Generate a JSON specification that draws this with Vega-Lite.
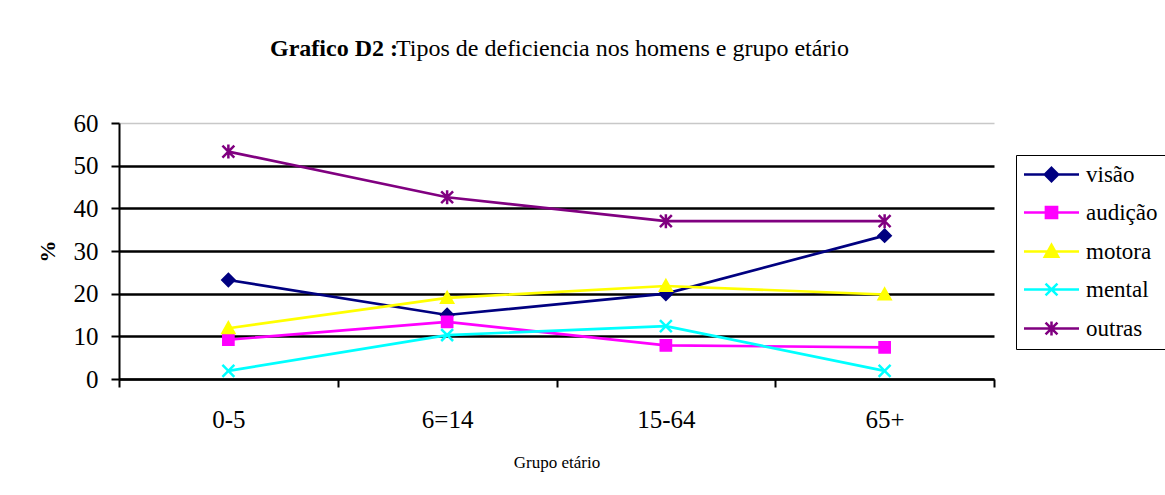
{
  "$schema": "https://vega.github.io/schema/vega-lite/v6.json",
  "width": 875,
  "height": 256,
  "autosize": {"type": "none"},
  "padding": {"left": 119, "top": 123, "right": 171, "bottom": 116},
  "background": "white",
  "config": {
    "font": "Liberation Serif",
    "view": {"stroke": null},
    "text": {"font": "Liberation Serif"},
    "title": {"font": "Liberation Serif", "subtitleFont": "Liberation Serif"},
    "style": {"group-subtitle": {"font": "Liberation Serif"}, "group-title": {"font": "Liberation Serif"}, "guide-label": {"font": "Liberation Serif, serif"}, "guide-title": {"font": "Liberation Serif"}},
    "legend": {"labelFont": "Liberation Serif, serif", "titleFont": "Liberation Serif"}
  },
  "title": {
    "text": "Grafico D2 :",
    "subtitle": "⠀⠀⠀⠀⠀⠀⠀Tipos de deficiencia nos homens e grupo etário",
    "anchor": "start",
    "frame": "group",
    "dx": 151,
    "offset": 50,
    "font": "Liberation Serif",
    "fontSize": 24,
    "fontWeight": "bold",
    "color": "black",
    "subtitleFont": "Liberation Serif",
    "subtitleFontSize": 24,
    "subtitleFontWeight": "normal",
    "subtitleColor": "black",
    "subtitlePadding": -24
  },
  "data": {
    "values": [
      {"grupo": "0-5", "tipo": "visão", "valor": 23.2},
      {"grupo": "6=14", "tipo": "visão", "valor": 15.0},
      {"grupo": "15-64", "tipo": "visão", "valor": 20.0},
      {"grupo": "65+", "tipo": "visão", "valor": 33.6},
      {"grupo": "0-5", "tipo": "audição", "valor": 9.2},
      {"grupo": "6=14", "tipo": "audição", "valor": 13.4},
      {"grupo": "15-64", "tipo": "audição", "valor": 7.9},
      {"grupo": "65+", "tipo": "audição", "valor": 7.4},
      {"grupo": "0-5", "tipo": "motora", "valor": 11.9},
      {"grupo": "6=14", "tipo": "motora", "valor": 19.0},
      {"grupo": "15-64", "tipo": "motora", "valor": 21.8},
      {"grupo": "65+", "tipo": "motora", "valor": 19.8},
      {"grupo": "0-5", "tipo": "mental", "valor": 1.9},
      {"grupo": "6=14", "tipo": "mental", "valor": 10.3},
      {"grupo": "15-64", "tipo": "mental", "valor": 12.4},
      {"grupo": "65+", "tipo": "mental", "valor": 1.9},
      {"grupo": "0-5", "tipo": "outras", "valor": 53.3},
      {"grupo": "6=14", "tipo": "outras", "valor": 42.6},
      {"grupo": "15-64", "tipo": "outras", "valor": 37.0},
      {"grupo": "65+", "tipo": "outras", "valor": 37.0}
    ]
  },
  "encoding": {
    "x": {
      "field": "grupo",
      "type": "nominal",
      "sort": ["0-5", "6=14", "15-64", "65+"],
      "scale": {"type": "band", "paddingInner": 0, "paddingOuter": 0},
      "axis": {
        "title": "Grupo etário",
        "labelAngle": 0,
        "tickBand": "extent",
        "tickSize": 8,
        "tickColor": "black",
        "tickWidth": 2,
        "domainColor": "black",
        "domainWidth": 2,
        "labelFont": "Liberation Serif",
        "labelFontSize": 25,
        "labelColor": "black",
        "labelPadding": 20,
        "titleFont": "Liberation Serif",
        "titleFontSize": 17,
        "titleFontWeight": "normal",
        "titleColor": "black",
        "titlePadding": 22,
        "grid": false
      }
    },
    "y": {
      "field": "valor",
      "type": "quantitative",
      "scale": {"domain": [0, 60], "nice": false},
      "axis": {
        "title": "%",
        "titleFont": "Liberation Serif",
        "titleFontWeight": "bold",
        "titleFontSize": 22,
        "titleColor": "black",
        "titlePadding": 14,
        "values": [0, 10, 20, 30, 40, 50, 60],
        "labelFont": "Liberation Serif",
        "labelFontSize": 25,
        "labelColor": "black",
        "labelPadding": 13,
        "tickSize": 8,
        "tickColor": "black",
        "tickWidth": 2,
        "domainColor": "black",
        "domainWidth": 2,
        "grid": true,
        "gridOpacity": 1,
        "gridColor": {"condition": {"test": "datum.value == 60", "value": "#c8c8c8"}, "value": "black"},
        "gridWidth": {"condition": {"test": "datum.value == 60", "value": 1.5}, "value": 2.5}
      }
    }
  },
  "layer": [
    {
      "mark": {"type": "line", "strokeWidth": 2.7},
      "encoding": {
        "color": {
          "field": "tipo",
          "type": "nominal",
          "scale": {"domain": ["visão", "audição", "motora", "mental", "outras"], "range": ["#000080", "#FF00FF", "#FFFF00", "#00FFFF", "#800080"]},
          "legend": {"title": null, "orient": "none", "legendX": 897, "legendY": 32, "padding": 8, "strokeColor": "black", "fillColor": "white", "labelFont": "Liberation Serif, serif", "labelFontSize": 23, "labelColor": "black", "labelLimit": 0, "symbolSize": 196, "symbolStrokeWidth": 2.5, "symbolOffset": 16, "labelOffset": 23, "rowPadding": 14}
        }
      }
    },
    {
      "transform": [{"filter": "datum.tipo == 'visão'"}],
      "mark": {"type": "point", "filled": true, "shape": "M0,-0.95L0.95,0L0,0.95L-0.95,0Z", "size": 196, "fill": "#000080", "stroke": "#000080", "strokeWidth": 1.5, "opacity": 1}
    },
    {
      "transform": [{"filter": "datum.tipo == 'audição'"}],
      "mark": {"type": "point", "filled": true, "shape": "M-0.8,-0.8L0.8,-0.8L0.8,0.8L-0.8,0.8Z", "size": 196, "fill": "#FF00FF", "stroke": "#FF00FF", "strokeWidth": 1.5, "opacity": 1}
    },
    {
      "transform": [{"filter": "datum.tipo == 'motora'"}],
      "mark": {"type": "point", "filled": true, "shape": "M0,-0.95L0.95,0.75L-0.95,0.75Z", "size": 196, "fill": "#FFFF00", "stroke": "#FFFF00", "strokeWidth": 1.5, "opacity": 1}
    },
    {
      "transform": [{"filter": "datum.tipo == 'mental'"}],
      "mark": {"type": "point", "filled": true, "shape": "M-0.85,-0.85L0.85,0.85M-0.85,0.85L0.85,-0.85", "size": 196, "fill": "#00FFFF", "stroke": "#00FFFF", "strokeWidth": 2.5, "opacity": 1}
    },
    {
      "transform": [{"filter": "datum.tipo == 'outras'"}],
      "mark": {"type": "point", "filled": true, "shape": "M-0.85,-0.85L0.85,0.85M-0.85,0.85L0.85,-0.85M0,-1L0,1", "size": 196, "fill": "#800080", "stroke": "#800080", "strokeWidth": 2.5, "opacity": 1}
    },
    {
      "transform": [{"filter": "false"}],
      "mark": {"type": "point", "filled": false, "size": 196, "strokeWidth": 2.5, "opacity": 1},
      "encoding": {
        "color": {
          "field": "tipo",
          "type": "nominal",
          "scale": {"domain": ["visão", "audição", "motora", "mental", "outras"], "range": ["#000080", "#FF00FF", "#FFFF00", "#00FFFF", "#800080"]},
          "legend": {"title": null, "orient": "none", "legendX": 897, "legendY": 32, "padding": 8, "strokeColor": "black", "fillColor": "white", "labelFont": "Liberation Serif, serif", "labelFontSize": 23, "labelColor": "black", "labelLimit": 0, "symbolSize": 196, "symbolStrokeWidth": 2.5, "symbolOffset": 16, "labelOffset": 23, "rowPadding": 14}
        },
        "shape": {
          "field": "tipo",
          "type": "nominal",
          "scale": {"domain": ["visão", "audição", "motora", "mental", "outras"], "range": [
            "M-3.93,0L3.93,0M0,-0.95L0.95,0L0,0.95L-0.95,0ZM0,-0.6L0.6,0L0,0.6L-0.6,0ZM0,-0.25L0.25,0L0,0.25L-0.25,0Z",
            "M-3.93,0L3.93,0M-0.8,-0.8L0.8,-0.8L0.8,0.8L-0.8,0.8ZM-0.45,-0.45L0.45,-0.45L0.45,0.45L-0.45,0.45ZM-0.1,-0.1L0.1,-0.1L0.1,0.1L-0.1,0.1Z",
            "M-3.93,0L3.93,0M0,-0.95L0.95,0.75L-0.95,0.75ZM0,-0.5L0.57,0.52L-0.57,0.52ZM0,-0.1L0.24,0.32L-0.24,0.32Z",
            "M-3.93,0L3.93,0M-0.85,-0.85L0.85,0.85M-0.85,0.85L0.85,-0.85",
            "M-3.93,0L3.93,0M-0.85,-0.85L0.85,0.85M-0.85,0.85L0.85,-0.85M0,-1L0,1"]},
          "legend": {"title": null, "orient": "none", "legendX": 897, "legendY": 32, "padding": 8, "strokeColor": "black", "fillColor": "white", "labelFont": "Liberation Serif, serif", "labelFontSize": 23, "labelColor": "black", "labelLimit": 0, "symbolSize": 196, "symbolStrokeWidth": 2.5, "symbolOffset": 16, "labelOffset": 23, "rowPadding": 14}
        }
      }
    }
  ]
}
